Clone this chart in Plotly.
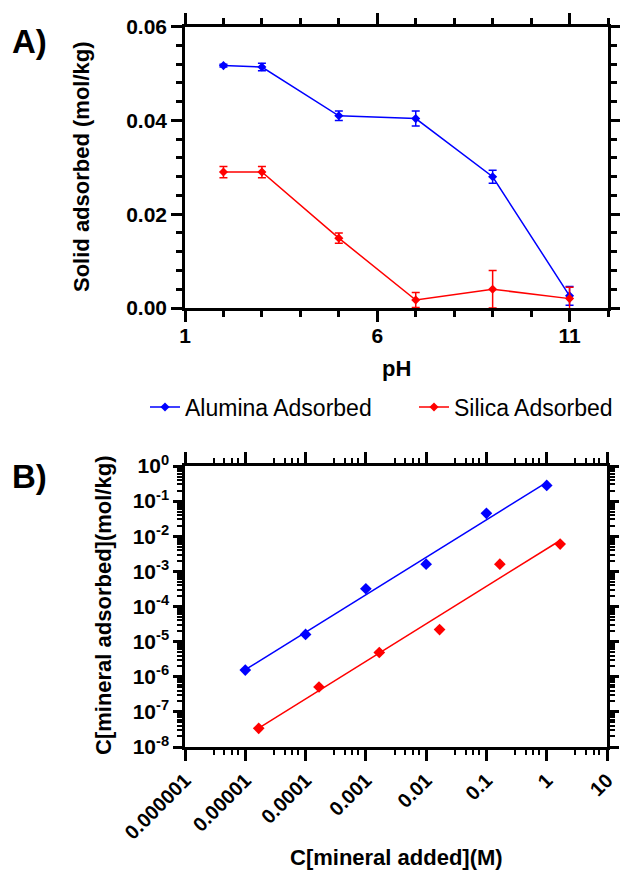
import numpy as np
import plotly.graph_objects as go

# ---------------- Panel A data ----------------
ph = [2, 3, 5, 7, 9, 11]
alumina_ads = [0.0517, 0.0514, 0.0410, 0.0404, 0.0280, 0.0026]
alumina_err = [0.0003, 0.0008, 0.0010, 0.0016, 0.0014, 0.0020]
silica_ads = [0.0290, 0.0290, 0.0149, 0.0017, 0.0040, 0.0020]
silica_err = [0.0012, 0.0012, 0.0011, 0.0016, 0.0040, 0.0024]

# ---------------- Panel B data ----------------
alumina_added = [1e-5, 1e-4, 1e-3, 1e-2, 1e-1, 1.0]
alumina_sorbed = [1.55e-6, 1.6e-5, 3.2e-4, 1.6e-3, 4.5e-2, 0.28]
silica_added = [1.67e-5, 1.67e-4, 1.67e-3, 1.67e-2, 0.167, 1.67]
silica_sorbed = [3.4e-8, 5.1e-7, 4.9e-6, 2.2e-5, 1.6e-3, 6.0e-3]

xb_tickvals = [1e-6, 1e-5, 1e-4, 1e-3, 1e-2, 1e-1, 1, 10]
xb_ticktext = ["0.000001", "0.00001", "0.0001", "0.001", "0.01", "0.1", "1", "10"]
yb_tickvals = [1, 1e-1, 1e-2, 1e-3, 1e-4, 1e-5, 1e-6, 1e-7, 1e-8]
yb_ticktext = ["10<sup>0</sup>", "10<sup>-1</sup>", "10<sup>-2</sup>", "10<sup>-3</sup>",
               "10<sup>-4</sup>", "10<sup>-5</sup>", "10<sup>-6</sup>", "10<sup>-7</sup>",
               "10<sup>-8</sup>"]

BLUE = "#0000ff"
RED = "#ff0000"
FONT = "Liberation Sans, Arial, sans-serif"
W, H = 620, 876


def px_x(p):
    return p / W


def px_y(p):
    return 1 - p / H


def loglog_fit(x, y):
    lx, ly = np.log10(x), np.log10(y)
    slope, icpt = np.polyfit(lx, ly, 1)
    ex = np.array([lx.min(), lx.max()])
    return 10 ** ex, 10 ** (slope * ex + icpt)


fig = go.Figure()

# Panel A traces
fig.add_trace(go.Scatter(
    x=ph, y=alumina_ads, mode="lines+markers", name="Alumina Adsorbed",
    line=dict(color=BLUE, width=1.5),
    marker=dict(symbol="diamond", size=7, color=BLUE),
    error_y=dict(type="data", array=alumina_err, color=BLUE, thickness=1.5, width=4),
    xaxis="x", yaxis="y", legend="legend"))
fig.add_trace(go.Scatter(
    x=ph, y=silica_ads, mode="lines+markers", name="Silica Adsorbed",
    line=dict(color=RED, width=1.5),
    marker=dict(symbol="diamond", size=7, color=RED),
    error_y=dict(type="data", array=silica_err, color=RED, thickness=1.5, width=4),
    xaxis="x", yaxis="y", legend="legend2"))

# Panel B traces
fx, fy = loglog_fit(alumina_added, alumina_sorbed)
fig.add_trace(go.Scatter(x=fx, y=fy, mode="lines", line=dict(color=BLUE, width=1.5),
                         showlegend=False, xaxis="x2", yaxis="y2"))
fig.add_trace(go.Scatter(x=alumina_added, y=alumina_sorbed, mode="markers",
                         marker=dict(symbol="diamond", size=9, color=BLUE),
                         showlegend=False, xaxis="x2", yaxis="y2"))
fx, fy = loglog_fit(silica_added, silica_sorbed)
fig.add_trace(go.Scatter(x=fx, y=fy, mode="lines", line=dict(color=RED, width=1.5),
                         showlegend=False, xaxis="x2", yaxis="y2"))
fig.add_trace(go.Scatter(x=silica_added, y=silica_sorbed, mode="markers",
                         marker=dict(symbol="diamond", size=9, color=RED),
                         showlegend=False, xaxis="x2", yaxis="y2"))

axis_common = dict(showline=True, linecolor="black", linewidth=2.5, mirror="ticks",
                   ticks="outside", tickcolor="black", tickwidth=2.5, ticklen=11,
                   showgrid=False, zeroline=False, automargin=False,
                   tickfont=dict(family=FONT, size=21, color="black", weight="bold"))

x_minor_log = [m * 10.0 ** e for e in range(-6, 1) for m in (3, 4.5, 6, 7.5)]

legend_style = dict(orientation="h", xanchor="left", yanchor="middle",
                    font=dict(family=FONT, size=23, color="black"),
                    bgcolor="rgba(0,0,0,0)", borderwidth=0)

fig.update_layout(
    width=W, height=H,
    margin=dict(l=0, r=0, t=0, b=0, autoexpand=False),
    paper_bgcolor="white", plot_bgcolor="white",
    font=dict(family=FONT, color="black"),
    xaxis=dict(domain=[px_x(185), px_x(608)], range=[1, 12], tick0=1, dtick=5,
               ticklabelstandoff=-4,
               minor=dict(dtick=1, ticks="outside", ticklen=6, tickwidth=2.5, tickcolor="black"),
               anchor="y", **axis_common),
    yaxis=dict(domain=[px_y(308), px_y(26.7)], range=[0, 0.06], tick0=0, dtick=0.02,
               tickformat=".2f",
               minor=dict(dtick=0.004, ticks="outside", ticklen=6, tickwidth=2.5, tickcolor="black"),
               anchor="x", **axis_common),
    xaxis2=dict(domain=[px_x(185), px_x(607)], type="log", range=[-6, 1],
                tickmode="array", tickvals=xb_tickvals, ticktext=xb_ticktext,
                tickangle=-45,
                minor=dict(tickmode="array", tickvals=x_minor_log, ticks="outside",
                           ticklen=5, tickwidth=2, tickcolor="black"),
                anchor="y2", **{**axis_common,
                                "tickfont": dict(family=FONT, size=20, color="black", weight="bold")}),
    yaxis2=dict(domain=[px_y(747), px_y(466)], type="log", range=[-8, 0],
                tickmode="array", tickvals=yb_tickvals, ticktext=yb_ticktext,
                minor=dict(dtick="D1", ticks="outside", ticklen=5, tickwidth=2, tickcolor="black"),
                anchor="x2", **{**axis_common, "ticklen": 9,
                                "tickfont": dict(family=FONT, size=21, color="black", weight="bold")}),
    legend=dict(x=px_x(145), y=px_y(407), **legend_style),
    legend2=dict(x=px_x(414), y=px_y(407), **legend_style),
)

annos = [
    dict(text="<b>A)</b>", x=px_x(10), y=px_y(42), xanchor="left", yanchor="middle",
         font=dict(size=33)),
    dict(text="<b>B)</b>", x=px_x(10), y=px_y(476), xanchor="left", yanchor="middle",
         font=dict(size=33)),
    dict(text="<b>Solid adsorbed (mol/kg)</b>", x=px_x(81), y=px_y(167), textangle=-90,
         xanchor="center", yanchor="middle", font=dict(size=22)),
    dict(text="<b>pH</b>", x=px_x(396), y=px_y(368), xanchor="center", yanchor="middle",
         font=dict(size=22)),
    dict(text="<b>C[mineral adsorbed](mol/kg)</b>", x=px_x(103), y=px_y(606), textangle=-90,
         xanchor="center", yanchor="middle", font=dict(size=22)),
    dict(text="<b>C[mineral added](M)</b>", x=px_x(396), y=px_y(857), xanchor="center",
         yanchor="middle", font=dict(size=22)),
]
for a in annos:
    a.update(xref="paper", yref="paper", showarrow=False)
    a["font"].update(family=FONT, color="black")
    fig.add_annotation(**a)

fig.write_html("out.html")
